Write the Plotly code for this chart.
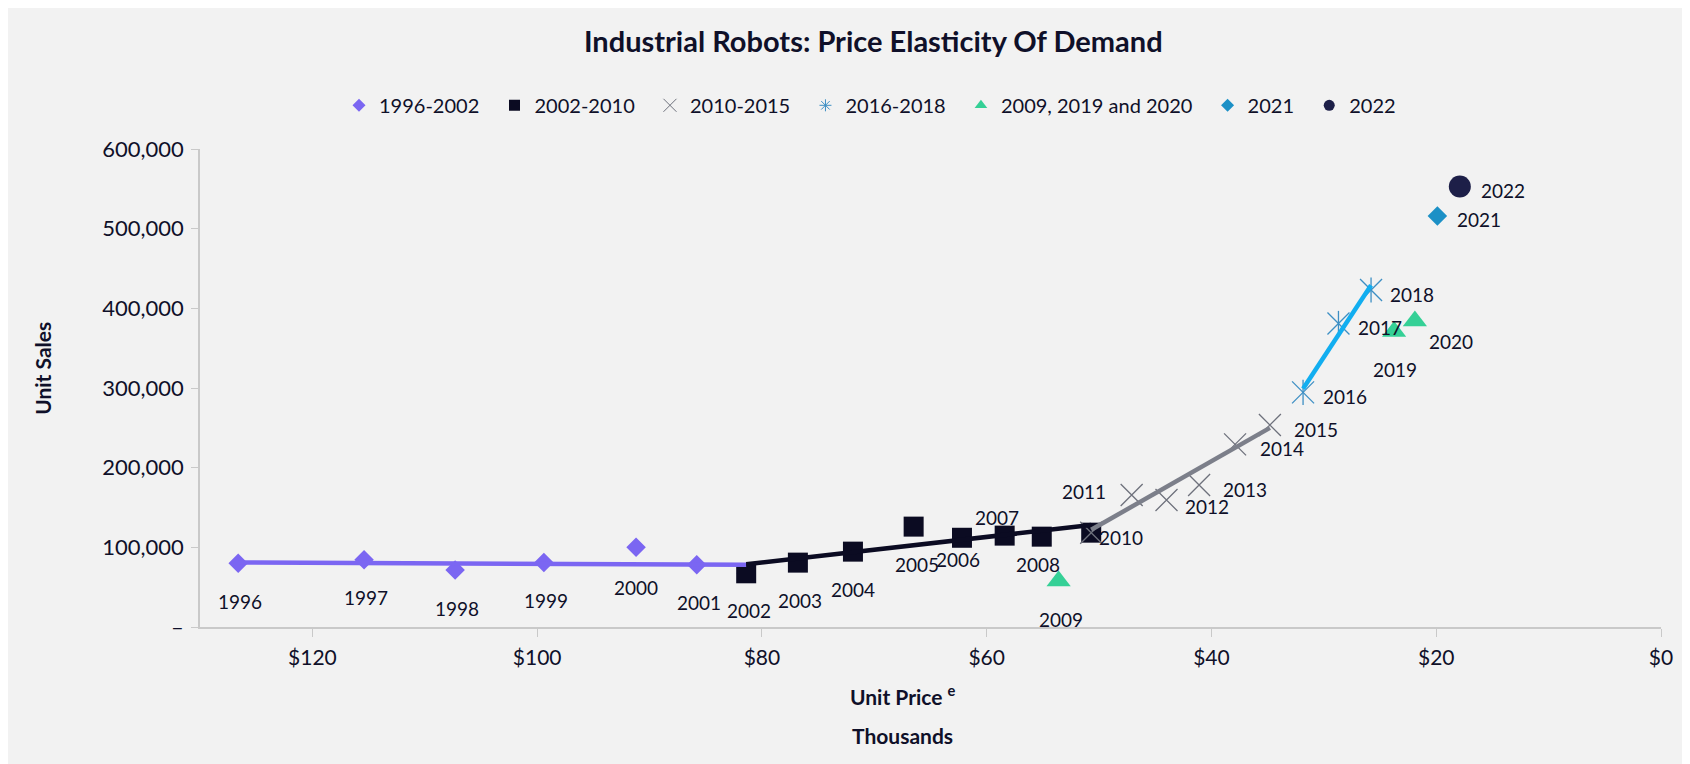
import plotly.graph_objects as go

# ---------------- data (price in $ thousands, unit sales) ----------------
a_years = [1996, 1997, 1998, 1999, 2000, 2001, 2002]
a_price = [126.6, 115.4, 107.3, 99.4, 91.2, 85.8, 81.4]
a_sales = [80000, 84500, 71500, 81000, 100000, 78000, 67400]

b_years = [2002, 2003, 2004, 2005, 2006, 2007, 2008, 2010]
b_price = [81.4, 76.8, 71.9, 66.5, 62.2, 58.4, 55.1, 50.7]
b_sales = [67400, 80800, 94600, 126000, 112000, 114700, 113400, 118400]

c_years = [2010, 2011, 2012, 2013, 2014, 2015]
c_price = [50.7, 47.1, 44.0, 41.1, 37.9, 34.8]
c_sales = [118400, 165600, 159400, 178200, 229200, 253500]

d_years = [2016, 2017, 2018]
d_price = [31.85, 28.7, 25.8]
d_sales = [294500, 381000, 423000]

e_years = [2009, 2019, 2020]
e_price = [53.6, 23.75, 21.9]
e_sales = [57700, 371000, 384000]

f_years = [2021]
f_price = [19.9]
f_sales = [516000]

g_years = [2022]
g_price = [17.9]
g_sales = [553000]

# trend lines (end points)
trend_a_x = [126.6, 81.4]
trend_a_y = [81000, 78000]
trend_b_x = [81.4, 50.7]
trend_b_y = [78700, 128000]
trend_c_x = [50.7, 34.8]
trend_c_y = [122000, 250000]
trend_d_x = [31.85, 25.8]
trend_d_y = [299000, 429000]

series_names = ["1996-2002", "2002-2010", "2010-2015", "2016-2018",
                "2009, 2019 and 2020", "2021", "2022"]

x_tickvals = [120, 100, 80, 60, 40, 20, 0]
x_ticktext = ["$120", "$100", "$80", "$60", "$40", "$20", "$0"]
y_tickvals = [0, 100000, 200000, 300000, 400000, 500000, 600000]
y_ticktext = ["–", "100,000", "200,000", "300,000", "400,000", "500,000", "600,000"]

# label offsets (px) for each year label: (dx, dy) – dy positive = up
label_offsets = {
    1996: (2, -38), 1997: (2, -38), 1998: (2, -38), 1999: (2, -38),
    2000: (0, -40), 2001: (2, -38), 2002: (3, -37), 2003: (2, -38),
    2004: (0, -38), 2005: (3, -38), 2006: (-4, -22), 2007: (-8, 18),
    2008: (-4, -28), 2009: (2, -38), 2010: (30, -5), 2011: (-48, 4),
    2012: (40, -6), 2013: (46, -4), 2014: (47, -4), 2015: (46, -4),
    2016: (42, -4), 2017: (42, -4), 2018: (41, -4), 2019: (1, -38),
    2020: (36, -20), 2021: (42, -4), 2022: (43, -4),
}

FONT = "Lato"
TXT = "#0f1029"
C_PURPLE = "#7b66f2"
C_BLACK = "#0b0b22"
C_GRAY = "#6e717c"
C_GRAYLINE = "#7c7f8a"
C_STEEL = "#3d8fc4"
C_SKY = "#12aef0"
C_GREEN = "#35d096"
C_BLUE = "#1c90c6"
C_NAVY = "#1d1f48"

fig = go.Figure()

# ---------------- marker series ----------------
fig.add_trace(go.Scatter(x=a_price, y=a_sales, mode="markers", showlegend=False,
                         marker=dict(symbol="diamond", size=15, color=C_PURPLE)))
fig.add_trace(go.Scatter(x=b_price, y=b_sales, mode="markers", showlegend=False,
                         marker=dict(symbol="square", size=20, color=C_BLACK)))
fig.add_trace(go.Scatter(x=c_price, y=c_sales, mode="markers", showlegend=False,
                         marker=dict(symbol="x-thin-open", size=22, color=C_GRAY,
                                     line=dict(color=C_GRAY, width=1.3))))
fig.add_trace(go.Scatter(x=d_price, y=d_sales, mode="markers", showlegend=False,
                         marker=dict(symbol="x-thin-open", size=22, color=C_STEEL,
                                     line=dict(color=C_STEEL, width=1.3))))
fig.add_trace(go.Scatter(x=d_price, y=d_sales, mode="markers", showlegend=False,
                         marker=dict(symbol="line-ns-open", size=18, color=C_STEEL,
                                     line=dict(color=C_STEEL, width=1.3))))
fig.add_trace(go.Scatter(x=e_price, y=e_sales, mode="markers", showlegend=False,
                         marker=dict(symbol="triangle-up", size=21, color=C_GREEN)))
fig.add_trace(go.Scatter(x=f_price, y=f_sales, mode="markers", showlegend=False,
                         marker=dict(symbol="diamond", size=15, color=C_BLUE)))
fig.add_trace(go.Scatter(x=g_price, y=g_sales, mode="markers", showlegend=False,
                         marker=dict(symbol="circle", size=22, color=C_NAVY)))

# ---------------- trend lines ----------------
for tx, ty, col in [(trend_a_x, trend_a_y, C_PURPLE), (trend_b_x, trend_b_y, C_BLACK),
                    (trend_c_x, trend_c_y, C_GRAYLINE), (trend_d_x, trend_d_y, C_SKY)]:
    fig.add_trace(go.Scatter(x=tx, y=ty, mode="lines", showlegend=False,
                             line=dict(color=col, width=4.5)))

# ---------------- legend-only entries ----------------
legend_styles = [
    dict(symbol="diamond", size=10, color=C_PURPLE),
    dict(symbol="square", size=11, color=C_BLACK),
    dict(symbol="x-thin-open", size=13, color=C_GRAY, line=dict(color=C_GRAY, width=1)),
    dict(symbol="asterisk-open", size=10, color=C_STEEL, line=dict(color=C_STEEL, width=1)),
    dict(symbol="triangle-up", size=11, color=C_GREEN),
    dict(symbol="diamond", size=10, color=C_BLUE),
    dict(symbol="circle", size=11, color=C_NAVY),
]
PAD = "\u00a0\u00a0"
for i, (name, mk) in enumerate(zip(series_names, legend_styles)):
    label = name + (PAD if i < len(series_names) - 1 else "")
    fig.add_trace(go.Scatter(x=[None], y=[None], mode="markers", name=label, marker=mk))

# ---------------- year labels ----------------
all_points = []
for yrs, px, sl in [(a_years[:-1], a_price[:-1], a_sales[:-1]), (b_years, b_price, b_sales),
                    (c_years[1:], c_price[1:], c_sales[1:]), (d_years, d_price, d_sales),
                    (e_years, e_price, e_sales), (f_years, f_price, f_sales),
                    (g_years, g_price, g_sales)]:
    all_points += list(zip(yrs, px, sl))

for yr, px, sl in all_points:
    dx, dy = label_offsets[yr]
    fig.add_annotation(x=px, y=sl, xref="x", yref="y", text=str(yr), showarrow=False,
                       xshift=dx, yshift=dy, font=dict(family=FONT, size=19, color=TXT))

# ---------------- axis titles ----------------
PLOT_L, PLOT_W, PLOT_B, PLOT_H = 192, 1461, 618.7, 478
fig.add_annotation(x=0.481, y=-0.142, xref="paper", yref="paper",
                   text="<b>Unit Price <sup>e</sup></b>", showarrow=False,
                   font=dict(family=FONT, size=21, color=TXT), yanchor="middle")
fig.add_annotation(x=0.481, y=-0.226, xref="paper", yref="paper",
                   text="<b>Thousands</b>", showarrow=False,
                   font=dict(family=FONT, size=21, color=TXT), yanchor="middle")
fig.add_annotation(x=(20 - PLOT_L) / PLOT_W, y=(PLOT_B - 360) / PLOT_H,
                   xref="paper", yref="paper", text="<b>Unit Sales</b>",
                   showarrow=False, textangle=-90,
                   font=dict(family=FONT, size=21, color=TXT))

fig.update_layout(
    width=1690, height=764,
    margin=dict(l=192, r=37, t=141, b=145),
    paper_bgcolor="#f2f2f2", plot_bgcolor="#f2f2f2",
    font=dict(family=FONT, color=TXT),
    title=dict(text="<b>Industrial Robots: Price Elasticity Of Demand</b>",
               x=0.512, xanchor="center", y=1 - 34 / 764, yanchor="middle",
               font=dict(family=FONT, size=29, color=TXT)),
    legend=dict(orientation="h", x=0.4586, xanchor="center", y=1.0914, yanchor="middle",
                font=dict(family=FONT, size=20, color=TXT), bgcolor="rgba(0,0,0,0)",
                itemwidth=30, tracegroupgap=0),
    xaxis=dict(range=[130, 0], tickvals=x_tickvals, ticktext=x_ticktext,
               showgrid=False, zeroline=False, showline=True, linecolor="#c9c9c9",
               linewidth=1.5, ticks="outside", ticklen=8, tickcolor="#c9c9c9",
               tickfont=dict(family=FONT, size=21, color=TXT), ticklabelstandoff=3),
    yaxis=dict(range=[0, 600000], tickvals=y_tickvals, ticktext=y_ticktext,
               showgrid=False, zeroline=False, showline=True, linecolor="#c9c9c9",
               linewidth=1.5, ticks="outside", ticklen=7, tickcolor="#c9c9c9",
               tickfont=dict(family=FONT, size=22, color=TXT), ticklabelstandoff=3),
)

fig.write_html("out.html")
